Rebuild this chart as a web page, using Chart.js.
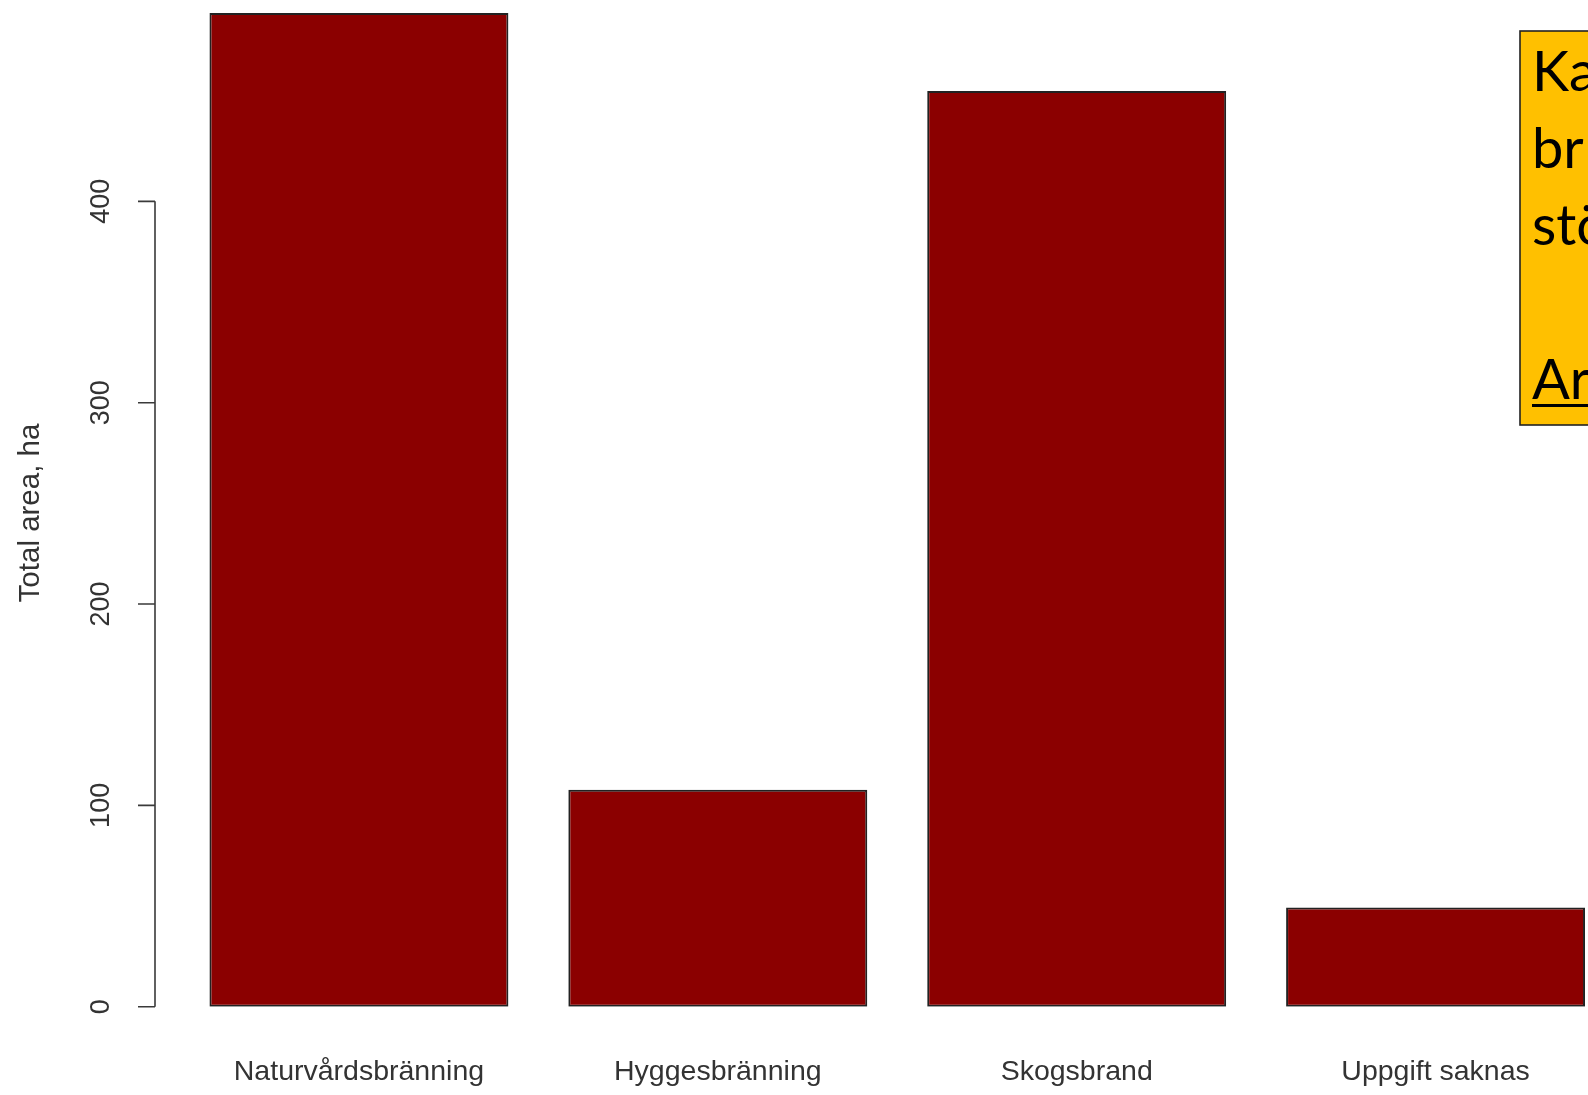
<!DOCTYPE html>
<html>
<head>
<meta charset="utf-8">
<script src="https://cdn.jsdelivr.net/npm/chart.js@4.4.1/dist/chart.umd.min.js"></script>
<style>
  html, body { margin: 0; padding: 0; overflow: hidden; background: #fff; }
  #wrap { position: relative; width: 1700px; height: 1095px; }
</style>
</head>
<body>
<div id="wrap"><canvas id="barChart" width="1700" height="1095"></canvas></div>
<script>
// data
const categories = ["Naturvårdsbränning", "Hyggesbränning", "Skogsbrand", "Uppgift saknas"];
const areaHa = [493.6, 107.7, 454.8, 49.3];
const yTicks = [0, 100, 200, 300, 400];
const yTitle = "Total area, ha";
const noteLines = ["Ka", "br", "stö", "", "Ar"];

const textColor = "#333";

// R-style axes drawn on top of the hidden Chart.js scales
const rAxes = {
    id: "rAxes",
    afterDraw(chart) {
        const ctx = chart.ctx;
        const x = chart.scales.x;
        const y = chart.scales.y;
        const axisX = 155;

        ctx.save();
        ctx.strokeStyle = "#3a3a3a";
        ctx.lineWidth = 1.6;
        ctx.beginPath();
        ctx.moveTo(axisX, y.getPixelForValue(yTicks[0]));
        ctx.lineTo(axisX, y.getPixelForValue(yTicks[yTicks.length - 1]));
        yTicks.forEach(function (t) {
            const py = y.getPixelForValue(t);
            ctx.moveTo(axisX, py);
            ctx.lineTo(axisX - 17, py);
        });
        ctx.stroke();

        ctx.fillStyle = textColor;
        ctx.font = "27px 'Liberation Sans', Arial, sans-serif";
        ctx.textAlign = "center";
        ctx.textBaseline = "middle";
        yTicks.forEach(function (t) {
            const py = y.getPixelForValue(t);
            ctx.save();
            ctx.translate(102, py);
            ctx.rotate(-Math.PI / 2);
            ctx.fillText(String(t), 0, 0);
            ctx.restore();
        });

        ctx.save();
        ctx.font = "29.5px 'Liberation Sans', Arial, sans-serif";
        ctx.translate(31, 513);
        ctx.rotate(-Math.PI / 2);
        ctx.fillText(yTitle, 0, 0);
        ctx.restore();

        ctx.font = "28.5px 'Liberation Sans', Arial, sans-serif";
        categories.forEach(function (c, i) {
            ctx.fillText(c, x.getPixelForValue(i), 1072);
        });

        // yellow note box, cut off at the right edge
        ctx.fillStyle = "#FFC000";
        ctx.fillRect(1520, 31, 300, 394);
        ctx.strokeStyle = "#222";
        ctx.lineWidth = 1.6;
        ctx.strokeRect(1520, 31, 300, 394);

        ctx.fillStyle = "#000";
        ctx.font = "56px Lato, 'Noto Sans', sans-serif";
        ctx.textAlign = "left";
        ctx.textBaseline = "alphabetic";
        noteLines.forEach(function (line, i) {
            ctx.fillText(line, 1532, 91 + i * 77);
        });
        ctx.fillRect(1532, 404, 200, 3);
        ctx.restore();
    },
};

new Chart(document.getElementById("barChart"), {
    type: "bar",
    data: {
        labels: categories,
        datasets: [
            {
                data: areaHa,
                backgroundColor: "#8B0000",
                borderColor: "#222",
                borderWidth: 2,
                borderSkipped: false,
                barPercentage: 0.833,
                categoryPercentage: 1,
            },
        ],
    },
    options: {
        responsive: false,
        animation: false,
        layout: {
            padding: { left: 179.5, right: 85, top: 0, bottom: 88.3 },
        },
        scales: {
            x: { display: false },
            y: { display: false, min: 0, max: 500 },
        },
        plugins: {
            legend: { display: false },
            tooltip: { enabled: false },
        },
    },
    plugins: [rAxes],
});
</script>
</body>
</html>
